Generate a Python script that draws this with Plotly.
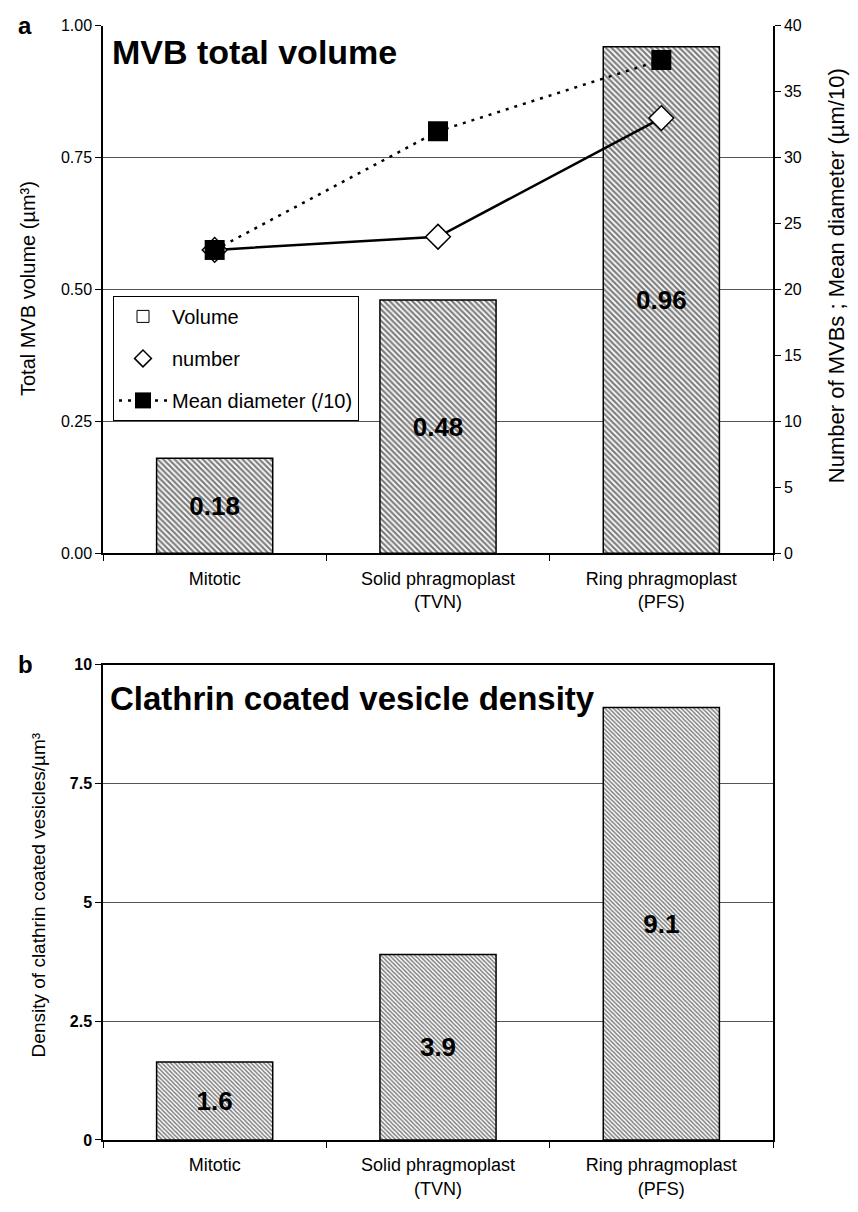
import plotly.graph_objects as go

categories = ["Mitotic", "Solid phragmoplast<br>(TVN)", "Ring phragmoplast<br>(PFS)"]
volume = [0.18, 0.48, 0.96]
volume_labels = ["0.18", "0.48", "0.96"]
number_mvb = [23, 24, 33]
mean_diam = [23, 32, 37.4]
density = [1.64, 3.9, 9.1]
density_labels = ["1.6", "3.9", "9.1"]

W, H = 858, 1212
FONT = "Liberation Sans, Arial, sans-serif"

def px_x(p):
    return p / W

def px_y(p):
    return 1 - p / H

fig = go.Figure()

fig.add_trace(go.Bar(
    x=categories, y=volume, name="Volume", width=0.52,
    marker=dict(color="white", line=dict(color="black", width=1.5),
                pattern=dict(shape="\\", size=4, solidity=0.55, fgcolor="black", bgcolor="white")),
    text=volume_labels, textposition="inside", insidetextanchor="middle",
    textangle=0, constraintext="none",
    textfont=dict(family=FONT, size=26, color="black", weight="bold"),
    xaxis="x", yaxis="y", showlegend=False,
))
# legend-only entry for the bars (plain white box, as in the original legend)
fig.add_trace(go.Bar(
    x=[None], y=[None], name="Volume",
    marker=dict(color="white", line=dict(color="black", width=1)),
    xaxis="x", yaxis="y", legendgroup="g1", showlegend=True,
))

fig.add_trace(go.Scatter(
    x=categories, y=number_mvb, name="number", mode="lines+markers",
    line=dict(color="black", width=2.5),
    marker=dict(symbol="diamond", size=19, color="white", line=dict(color="black", width=1.5)),
    xaxis="x", yaxis="y2", showlegend=False,
))
fig.add_trace(go.Scatter(
    x=[None], y=[None], name="number", mode="markers",
    marker=dict(symbol="diamond", size=13, color="white", line=dict(color="black", width=1.5)),
    xaxis="x", yaxis="y2", legendgroup="g2", showlegend=True,
))
fig.add_trace(go.Scatter(
    x=categories, y=mean_diam, name="Mean diameter (/10)", mode="lines+markers",
    line=dict(color="black", width=2.5, dash="3px,6px"),
    marker=dict(symbol="square", size=20, color="black"),
    xaxis="x", yaxis="y2", legendgroup="g3", showlegend=True,
))

fig.add_trace(go.Bar(
    x=categories, y=density, name="Density", width=0.52,
    marker=dict(color="white", line=dict(color="black", width=1.5),
                pattern=dict(shape="\\", size=3, solidity=0.5, fgcolor="black", bgcolor="white")),
    text=density_labels, textposition="inside", insidetextanchor="middle",
    textangle=0, constraintext="none",
    textfont=dict(family=FONT, size=26, color="black", weight="bold"),
    xaxis="x2", yaxis="y3", showlegend=False,
))

xdom = [px_x(103), px_x(773)]
tickfont = dict(family=FONT, size=16, color="black")
xtickfont = dict(family=FONT, size=18, color="black")

fig.update_layout(
    width=W, height=H,
    margin=dict(l=0, r=0, t=0, b=0),
    paper_bgcolor="white", plot_bgcolor="white",
    font=dict(family=FONT, color="black"),
    xaxis=dict(domain=xdom, anchor="y", type="category", tickson="boundaries",
               ticks="outside", ticklen=6, tickcolor="black", showline=True,
               linecolor="black", linewidth=1.5, tickfont=xtickfont, showgrid=False,
               ticklabelstandoff=8),
    yaxis=dict(domain=[px_y(553), px_y(18)], anchor="x", range=[0, 1.0],
               dtick=0.25, tickformat=".2f", ticks="outside", ticklen=6,
               tickcolor="black", showline=True, linecolor="black", linewidth=1.5,
               showgrid=True, gridcolor="#555555", gridwidth=1, zeroline=False,
               tickfont=tickfont),
    yaxis2=dict(overlaying="y", side="right", anchor="x", range=[0, 40], dtick=5,
                ticks="outside", ticklen=6, tickcolor="black", showline=True,
                linecolor="black", linewidth=1.5, showgrid=False, zeroline=False,
                tickfont=tickfont),
    xaxis2=dict(domain=xdom, anchor="y3", type="category", tickson="boundaries",
                ticks="outside", ticklen=6, tickcolor="black", showline=True,
                linecolor="black", linewidth=1.5, mirror=True, tickfont=xtickfont,
                showgrid=False, ticklabelstandoff=8),
    yaxis3=dict(domain=[px_y(1148), px_y(666)], anchor="x2", range=[0, 10],
                tickvals=[0, 2.5, 5, 7.5, 10], ticktext=["0", "2.5", "5", "7.5", "10"],
                ticks="outside", ticklen=6, tickcolor="black", showline=True,
                linecolor="black", linewidth=1.5, mirror=True,
                showgrid=True, gridcolor="#555555", gridwidth=1, zeroline=False,
                tickfont=dict(family=FONT, size=16, color="black", weight="bold")),
    legend=dict(x=px_x(113), y=px_y(292), xanchor="left", yanchor="top",
                bgcolor="white", bordercolor="black", borderwidth=1,
                font=dict(family=FONT, size=20, color="black"),
                traceorder="grouped", tracegroupgap=13, itemwidth=48),
    showlegend=True,
)

ann = [
    dict(text="<b>a</b>", x=px_x(16), y=px_y(18), size=24),
    dict(text="<b>b</b>", x=px_x(16), y=px_y(666), size=24),
    dict(text="<b>MVB total volume</b>", x=px_x(110), y=px_y(45), size=34),
    dict(text="<b>Clathrin coated vesicle density</b>", x=px_x(108), y=px_y(700), size=33),
]
for a in ann:
    fig.add_annotation(text=a["text"], x=a["x"], y=a["y"], xref="paper", yref="paper",
                       xanchor="left", yanchor="middle", showarrow=False,
                       font=dict(family=FONT, size=a["size"], color="black"))

fig.add_annotation(text="Total MVB volume (µm³)", x=px_x(28), y=px_y(285), xref="paper", yref="paper",
                   xanchor="center", yanchor="middle",
                   textangle=-90, showarrow=False, font=dict(family=FONT, size=20, color="black"))
fig.add_annotation(text="Number of MVBs ; Mean diameter (µm/10)", x=px_x(836), y=px_y(272),
                   xref="paper", yref="paper", xanchor="center", yanchor="middle",
                   textangle=-90, showarrow=False,
                   font=dict(family=FONT, size=22, color="black"))
fig.add_annotation(text="Density of clathrin coated vesicles/µm³", x=px_x(38), y=px_y(900),
                   xref="paper", yref="paper", xanchor="center", yanchor="middle",
                   textangle=-90, showarrow=False,
                   font=dict(family=FONT, size=19, color="black"))

fig.write_html("out.html", config={"displayModeBar": False},
               post_script="document.body.style.margin='0px';")
